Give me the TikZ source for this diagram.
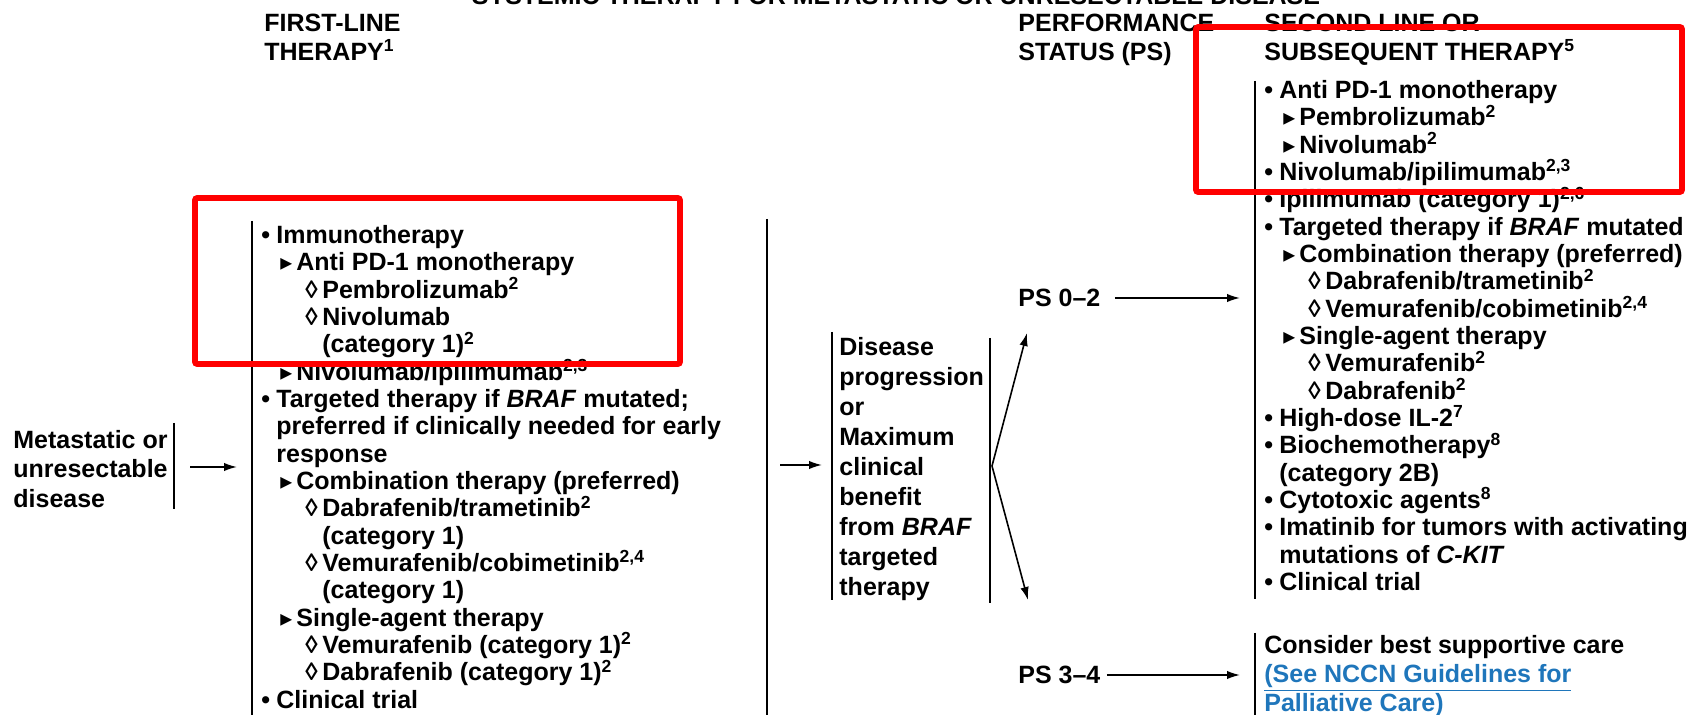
\documentclass[tikz,border=0pt]{standalone}
\usepackage{fontspec}
\usepackage{graphicx}
\setmainfont{Liberation Sans}
\newfontfamily\symfont{DejaVu Sans}
\usetikzlibrary{arrows.meta,positioning}
\definecolor{linkblue}{RGB}{31,118,187}
\definecolor{framered}{RGB}{255,0,0}

% list markers and indents
\newcommand{\fn}[1]{\textsuperscript{#1}}
\newcommand{\tri}{{\symfont\scalebox{0.95}{▸}}}
\newcommand{\lva}{\makebox[7.5pt][l]{\textbullet}}
\newcommand{\lvb}{\hspace*{9.5pt}\makebox[8pt][l]{\tri}}
\newcommand{\lvc}{\hspace*{22pt}\makebox[8.5pt][l]{◊}}
\newcommand{\cta}{\hspace*{7.5pt}}
\newcommand{\ctc}{\hspace*{30.5pt}}
\newcommand{\topstrut}{\rule{0pt}{10pt}}

\tikzset{
  txt/.style={inner sep=0pt,anchor=north west,align=left,
    font=\bfseries\fontsize{12.5}{13.675}\selectfont},
  hdr/.style={txt,font=\bfseries\fontsize{12.5}{14.5}\selectfont},
  bar/.style={line width=1pt},
  arr/.style={line width=0.8pt,-{Latex[length=6.5pt,width=4.2pt]}},
  redframe/.style={draw=framered,line width=2.8pt,rounded corners=1pt}
}

\begin{document}
\begin{tikzpicture}[x=0.5pt,y=-0.5pt]
  \useasboundingbox (0,0) rectangle (1692,715);
  \clip (0,0) rectangle (1692,715);

  % headings
  \node[txt,anchor=base] (title) at (896,5)
    {SYSTEMIC THERAPY FOR METASTATIC OR UNRESECTABLE DISEASE};
  \node[hdr] (hfirst) at (264,11) {\topstrut FIRST-LINE\\THERAPY\fn{1}};
  \node[hdr] (hps) at (1018,11) {\topstrut PERFORMANCE\\STATUS (PS)};
  \node[hdr] (hsecond) at (1264,11) {\topstrut SECOND LINE OR\\SUBSEQUENT THERAPY\fn{5}};

  % start
  \node[txt,font=\bfseries\fontsize{12.5}{14.75}\selectfont] (meta) at (13,428)
    {\topstrut Metastatic or\\unresectable\\disease};

  % first-line options
  \node[txt] (first) at (261,223) {\topstrut\lva Immunotherapy\\
    \lvb Anti PD-1 monotherapy\\
    \lvc Pembrolizumab\fn{2}\\
    \lvc Nivolumab\\
    \ctc (category 1)\fn{2}\\
    \lvb Nivolumab/ipilimumab\fn{2,3}\\
    \lva Targeted therapy if \textit{BRAF} mutated;\\
    \cta preferred if clinically needed for early\\
    \cta response\\
    \lvb Combination therapy (preferred)\\
    \lvc Dabrafenib/trametinib\fn{2}\\
    \ctc (category 1)\\
    \lvc Vemurafenib/cobimetinib\fn{2,4}\\
    \ctc (category 1)\\
    \lvb Single-agent therapy\\
    \lvc Vemurafenib (category 1)\fn{2}\\
    \lvc Dabrafenib (category 1)\fn{2}\\
    \lva Clinical trial};

  % progression
  \node[txt,font=\bfseries\fontsize{12.5}{15}\selectfont] (prog) at (839,335)
    {\topstrut Disease\\progression\\or\\Maximum\\clinical\\benefit\\
     from \textit{BRAF}\\targeted\\therapy};

  \node[txt,anchor=west] (ps02) at (1018,298) {PS 0--2};
  \node[txt,anchor=west] (ps34) at (1018,675) {PS 3--4};

  % second-line options
  \node[txt] (second) at (1264,78) {\topstrut\lva Anti PD-1 monotherapy\\
    \lvb Pembrolizumab\fn{2}\\
    \lvb Nivolumab\fn{2}\\
    \lva Nivolumab/ipilimumab\fn{2,3}\\
    \lva Ipilimumab (category 1)\fn{2,6}\\
    \lva Targeted therapy if \textit{BRAF} mutated\\
    \lvb Combination therapy (preferred)\\
    \lvc Dabrafenib/trametinib\fn{2}\\
    \lvc Vemurafenib/cobimetinib\fn{2,4}\\
    \lvb Single-agent therapy\\
    \lvc Vemurafenib\fn{2}\\
    \lvc Dabrafenib\fn{2}\\
    \lva High-dose IL-2\fn{7}\\
    \lva Biochemotherapy\fn{8}\\
    \cta (category 2B)\\
    \lva Cytotoxic agents\fn{8}\\
    \lva Imatinib for tumors with activating\\
    \cta mutations of \textit{C-KIT}\\
    \lva Clinical trial};

  \node[txt,font=\bfseries\fontsize{12.5}{14.5}\selectfont] (care) at (1264,633)
    {\topstrut Consider best supportive care\\
     \textcolor{linkblue}{\underline{(See NCCN Guidelines for}}\\
     \textcolor{linkblue}{\underline{Palliative Care)}}};

  % brackets
  \draw[bar] (174,423) -- (174,509);
  \draw[bar] (252,221) -- (252,715);
  \draw[bar] (767,219) -- (767,715);
  \draw[bar] (832,332) -- (832,600);
  \draw[bar] (990,338) -- (990,603);
  \draw[bar] (1255,81) -- (1255,599);
  \draw[bar] (1255,633) -- (1255,715);

  % connectors
  \coordinate (metaout) at (190,467);
  \coordinate (firstin) at (237,467);
  \coordinate (firstout) at (780,465);
  \coordinate (progin) at (822,465);
  \coordinate (fork) at (992,466);
  \coordinate (uptip) at (1027,333);
  \coordinate (downtip) at (1028,600);
  \coordinate (secondin) at (1240,298);
  \coordinate (carein) at (1240,675);
  \draw[arr] (metaout) -- (firstin);
  \draw[arr] (firstout) -- (progin);
  \draw[arr] (fork) -- (uptip);
  \draw[arr] (fork) -- (downtip);
  \draw[arr] ([xshift=7pt]ps02.east) -- (secondin);
  \draw[arr] ([xshift=3pt]ps34.east) -- (carein);

  % highlight frames
  \draw[redframe] (1196,27) rectangle (1682,192);
  \draw[redframe] (195,198) rectangle (680,364);
\end{tikzpicture}
\end{document}
